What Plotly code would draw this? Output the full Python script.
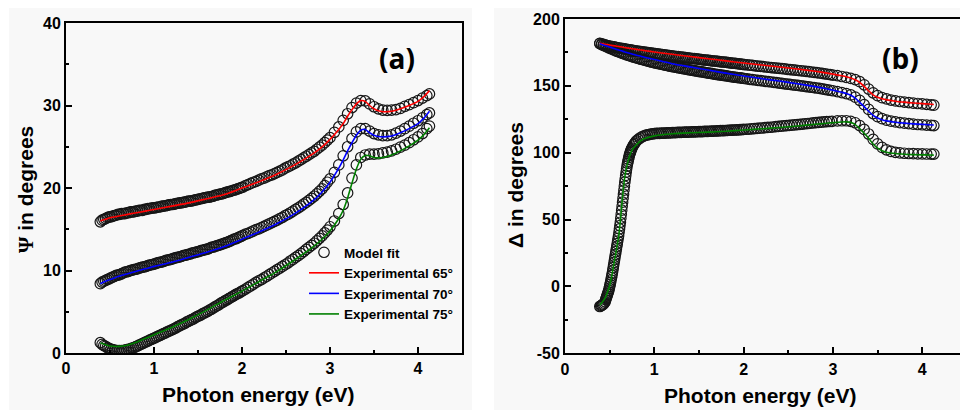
import plotly.graph_objects as go

# ---------------- data ----------------
# photon energies (eV) of the model-fit points
energy_fit = [
    0.39, 0.41, 0.43, 0.45, 0.47, 0.49, 0.51, 0.53, 0.55, 0.57,
    0.59, 0.61, 0.63, 0.65, 0.67, 0.69, 0.71, 0.73, 0.75, 0.77,
    0.79, 0.81, 0.83, 0.85, 0.87, 0.89, 0.91, 0.93, 0.95, 0.97,
    0.99, 1.01,
    1.03, 1.05, 1.07, 1.09, 1.11, 1.13, 1.15, 1.17, 1.19, 1.21,
    1.23, 1.25, 1.27, 1.29, 1.31, 1.33, 1.35, 1.37, 1.39, 1.41,
    1.43, 1.45, 1.47, 1.49, 1.51, 1.53, 1.55, 1.57, 1.59, 1.61,
    1.63, 1.65, 1.67, 1.69, 1.71, 1.73, 1.75, 1.77, 1.79, 1.81,
    1.83, 1.85, 1.87, 1.89, 1.91, 1.93, 1.95, 1.97, 1.99, 2.01,
    2.04, 2.07, 2.10, 2.13, 2.16, 2.19, 2.22, 2.25, 2.28, 2.31,
    2.34, 2.37, 2.40, 2.43, 2.46, 2.49, 2.52, 2.55, 2.58, 2.61,
    2.64, 2.67, 2.70, 2.73, 2.76, 2.79, 2.82, 2.85, 2.88, 2.91,
    2.94, 2.97, 3.00,
    3.05, 3.10, 3.15, 3.20, 3.25, 3.30, 3.35, 3.40, 3.45, 3.50,
    3.55, 3.60, 3.65, 3.70, 3.75, 3.80, 3.85, 3.90, 3.95, 4.00,
    4.05, 4.10, 4.13,
]
# finer energy grid for the 75° Delta fit (steep rise near 0.6 eV)
energy_fit_fine = [
    0.39, 0.40, 0.41, 0.42, 0.43, 0.44, 0.45,
    0.455, 0.460, 0.465, 0.470, 0.475, 0.480, 0.485, 0.490, 0.495, 0.500,
    0.505, 0.510, 0.515, 0.520, 0.525, 0.530, 0.535, 0.540, 0.545, 0.550,
    0.555, 0.560, 0.565, 0.570, 0.575, 0.580, 0.585, 0.590, 0.595, 0.600,
    0.605, 0.610, 0.615, 0.620, 0.625, 0.630, 0.635, 0.640, 0.645, 0.650,
    0.655, 0.660, 0.665, 0.670, 0.675, 0.680, 0.685, 0.690, 0.695, 0.700,
    0.705, 0.710, 0.715, 0.720, 0.725, 0.730, 0.735, 0.740, 0.745, 0.750,
    0.76, 0.77, 0.78, 0.79, 0.80,
    0.82, 0.84, 0.86, 0.88, 0.90, 0.92, 0.94, 0.96, 0.98, 1.00,
    1.02, 1.04, 1.06, 1.08, 1.10, 1.12, 1.14, 1.16, 1.18, 1.20,
    1.22, 1.24, 1.26, 1.28, 1.30, 1.32, 1.34, 1.36, 1.38, 1.40,
    1.42, 1.44, 1.46, 1.48, 1.50, 1.52, 1.54, 1.56, 1.58, 1.60,
    1.62, 1.64, 1.66, 1.68, 1.70, 1.72, 1.74, 1.76, 1.78, 1.80,
    1.82, 1.84, 1.86, 1.88, 1.90, 1.92, 1.94, 1.96, 1.98, 2.00,
    2.03, 2.06, 2.09, 2.12, 2.15, 2.18, 2.21, 2.24, 2.27, 2.30,
    2.33, 2.36, 2.39, 2.42, 2.45, 2.48, 2.51, 2.54, 2.57, 2.60,
    2.63, 2.66, 2.69, 2.72, 2.75, 2.78, 2.81, 2.84, 2.87, 2.90,
    2.93, 2.96, 2.99,
    3.05, 3.10, 3.15, 3.20, 3.25, 3.30, 3.35, 3.40, 3.45, 3.50,
    3.55, 3.60, 3.65, 3.70, 3.75, 3.80, 3.85, 3.90, 3.95, 4.00,
    4.05, 4.10, 4.13,
]

# model fit, Psi (deg)
psi_fit_65 = [
    15.9, 16.1, 16.2, 16.3, 16.4, 16.5, 16.5, 16.6, 16.65, 16.7,
    16.8, 16.8, 16.9, 16.9, 16.9, 17.0, 17.0, 17.1, 17.1, 17.1,
    17.2, 17.2, 17.3, 17.3, 17.3, 17.4, 17.4, 17.5, 17.5, 17.55,
    17.6, 17.6,
    17.65, 17.7, 17.7, 17.8, 17.8, 17.85, 17.9, 17.95, 18.0, 18.0,
    18.05, 18.1, 18.15, 18.2, 18.2, 18.25, 18.3, 18.35, 18.4, 18.4,
    18.45, 18.5, 18.55, 18.6, 18.65, 18.7, 18.75, 18.8, 18.85, 18.9,
    18.9, 18.95, 19.0, 19.1, 19.15, 19.2, 19.25, 19.3, 19.35, 19.45,
    19.5, 19.55, 19.6, 19.7, 19.75, 19.8, 19.9, 19.95, 20.05, 20.1,
    20.3, 20.4, 20.55, 20.7, 20.8, 20.95, 21.1, 21.2, 21.35, 21.5,
    21.6, 21.75, 21.9, 22.05, 22.2, 22.4, 22.55, 22.7, 22.9, 23.05,
    23.25, 23.45, 23.65, 23.85, 24.05, 24.25, 24.45, 24.7, 24.95, 25.2,
    25.5, 25.8, 26.1,
    26.75, 27.4, 28.2, 29.0, 29.75, 30.3, 30.6, 30.55, 30.2, 29.85,
    29.6, 29.45, 29.4, 29.45, 29.5, 29.65, 29.9, 30.1, 30.35, 30.6,
    30.9, 31.2, 31.4,
]
psi_fit_70 = [
    8.4, 8.6, 8.7, 8.8, 8.9, 9.0, 9.1, 9.2, 9.3, 9.4,
    9.45, 9.5, 9.6, 9.7, 9.8, 9.85, 9.9, 10.0, 10.05, 10.1,
    10.15, 10.2, 10.3, 10.35, 10.4, 10.45, 10.5, 10.6, 10.65, 10.7,
    10.75, 10.8,
    10.9, 10.95, 11.0, 11.05, 11.1, 11.2, 11.25, 11.3, 11.35, 11.4,
    11.5, 11.55, 11.6, 11.65, 11.7, 11.8, 11.85, 11.9, 11.95, 12.0,
    12.1, 12.15, 12.2, 12.25, 12.3, 12.4, 12.45, 12.5, 12.55, 12.6,
    12.7, 12.8, 12.85, 12.9, 13.0, 13.05, 13.1, 13.2, 13.25, 13.35,
    13.4, 13.5, 13.6, 13.7, 13.8, 13.85, 13.95, 14.05, 14.15, 14.25,
    14.4, 14.5, 14.65, 14.8, 14.95, 15.05, 15.2, 15.35, 15.5, 15.65,
    15.8, 15.95, 16.1, 16.3, 16.45, 16.65, 16.8, 17.0, 17.2, 17.4,
    17.6, 17.8, 18.05, 18.25, 18.5, 18.75, 19.0, 19.3, 19.6, 19.9,
    20.3, 20.7, 21.1,
    21.9, 22.8, 23.9, 25.0, 26.0, 26.8, 27.2, 27.2, 26.9, 26.6,
    26.45, 26.35, 26.35, 26.45, 26.65, 26.9, 27.2, 27.5, 27.85, 28.15,
    28.5, 28.9, 29.1,
]
psi_fit_75 = [
    1.25, 1.05, 0.9, 0.8, 0.65, 0.55, 0.45, 0.4, 0.35, 0.3,
    0.3, 0.3, 0.3, 0.3, 0.35, 0.4, 0.45, 0.5, 0.6, 0.65,
    0.75, 0.85, 0.95, 1.05, 1.15, 1.25, 1.35, 1.45, 1.55, 1.65,
    1.75, 1.85,
    1.95, 2.05, 2.15, 2.25, 2.35, 2.45, 2.55, 2.65, 2.75, 2.85,
    2.95, 3.05, 3.2, 3.3, 3.4, 3.5, 3.6, 3.75, 3.85, 3.95,
    4.05, 4.15, 4.3, 4.4, 4.5, 4.6, 4.75, 4.85, 4.95, 5.05,
    5.2, 5.3, 5.45, 5.55, 5.7, 5.8, 5.95, 6.1, 6.2, 6.35,
    6.45, 6.6, 6.7, 6.85, 6.95, 7.1, 7.2, 7.3, 7.45, 7.55,
    7.75, 7.95, 8.15, 8.35, 8.55, 8.75, 8.9, 9.1, 9.3, 9.5,
    9.7, 9.9, 10.1, 10.3, 10.5, 10.7, 10.9, 11.15, 11.35, 11.6,
    11.8, 12.05, 12.3, 12.55, 12.8, 13.05, 13.3, 13.6, 13.9, 14.2,
    14.55, 14.9, 15.3,
    16.0, 16.9, 18.0, 19.4, 21.2, 22.8, 23.7, 24.0, 24.1, 24.1,
    24.15, 24.25, 24.35, 24.5, 24.7, 24.95, 25.2, 25.5, 25.85, 26.2,
    26.6, 27.2, 27.5,
]

# model fit, Delta (deg)
delta_fit_65 = [
    181.8, 181.4, 181.0, 180.6, 180.2, 179.9, 179.6, 179.3, 179.1, 178.8,
    178.5, 178.3, 178.0, 177.8, 177.6, 177.3, 177.1, 176.9, 176.7, 176.4,
    176.2, 176.0, 175.8, 175.6, 175.4, 175.2, 175.0, 174.8, 174.6, 174.5,
    174.3, 174.1,
    173.9, 173.75, 173.55, 173.4, 173.2, 173.0, 172.85, 172.65, 172.5, 172.3,
    172.15, 171.95, 171.8, 171.6, 171.45, 171.3, 171.1, 170.95, 170.8, 170.6,
    170.45, 170.3, 170.15, 169.95, 169.8, 169.65, 169.5, 169.35, 169.2, 169.0,
    168.9, 168.75, 168.6, 168.45, 168.3, 168.15, 168.0, 167.85, 167.7, 167.5,
    167.35, 167.2, 167.05, 166.9, 166.75, 166.55, 166.4, 166.25, 166.1, 165.95,
    165.7, 165.45, 165.25, 165.0, 164.8, 164.6, 164.35, 164.1, 163.9, 163.7,
    163.5, 163.3, 163.1, 162.9, 162.65, 162.4, 162.2, 162.0, 161.75, 161.5,
    161.3, 161.1, 160.85, 160.6, 160.35, 160.1, 159.85, 159.6, 159.3, 159.0,
    158.7, 158.4, 158.1,
    157.6, 157.0, 156.3, 155.6, 154.6, 153.1, 150.8, 147.6, 144.8, 142.7,
    141.2, 140.2, 139.4, 138.8, 138.3, 137.9, 137.5, 137.1, 136.8, 136.5,
    136.2, 135.8, 135.6,
]
delta_fit_70 = [
    181.6, 180.9, 180.3, 179.7, 179.1, 178.5, 177.9, 177.4, 176.8, 176.2,
    175.7, 175.2, 174.7, 174.2, 173.7, 173.2, 172.8, 172.4, 171.9, 171.5,
    171.1, 170.7, 170.3, 169.9, 169.6, 169.2, 168.8, 168.5, 168.1, 167.8,
    167.5, 167.1,
    166.85, 166.55, 166.25, 166.0, 165.7, 165.4, 165.1, 164.8, 164.55, 164.3,
    164.0, 163.8, 163.55, 163.3, 163.05, 162.8, 162.55, 162.3, 162.05, 161.8,
    161.55, 161.35, 161.1, 160.9, 160.65, 160.45, 160.2, 160.0, 159.7, 159.5,
    159.3, 159.1, 158.85, 158.65, 158.45, 158.25, 158.05, 157.85, 157.6, 157.4,
    157.2, 157.0, 156.8, 156.6, 156.45, 156.25, 156.05, 155.9, 155.7, 155.5,
    155.2, 154.9, 154.65, 154.4, 154.15, 153.9, 153.65, 153.4, 153.15, 152.9,
    152.65, 152.4, 152.1, 151.8, 151.55, 151.3, 151.05, 150.8, 150.55, 150.3,
    150.05, 149.8, 149.5, 149.2, 148.95, 148.7, 148.4, 148.1, 147.75, 147.4,
    147.05, 146.7, 146.35,
    145.7, 145.0, 144.2, 143.2, 141.6, 139.2, 135.9, 132.4, 129.3, 127.0,
    125.5, 124.4, 123.6, 123.0, 122.5, 122.1, 121.7, 121.4, 121.1, 120.9,
    120.7, 120.5, 120.3,
]
delta_fit_75 = [
    -15.0, -14.6, -14.2, -13.7, -13.2, -12.5, -11.5,
    -10.0, -9.0, -8.0, -7.0, -6.0, -5.0, -4.0, -3.0, -1.5, 0.0,
    1.5, 3.0, 4.8, 6.5, 8.2, 10.0, 12.0, 14.0, 16.0, 18.0,
    20.0, 22.0, 24.0, 26.0, 28.0, 30.0, 32.0, 34.0, 36.0, 38.0,
    40.5, 43.0, 45.5, 48.0, 51.0, 54.0, 57.0, 60.0, 63.0, 66.0,
    69.0, 72.0, 75.0, 78.0, 80.5, 83.0, 85.5, 88.0, 90.0, 92.0,
    93.5, 95.0, 96.5, 98.0, 99.0, 100.0, 101.0, 102.0, 102.8, 103.5,
    105.0, 106.0, 107.0, 108.0, 108.8,
    110.0, 111.0, 111.8, 112.4, 112.9, 113.3, 113.6, 113.9, 114.1, 114.3,
    114.4, 114.5, 114.5, 114.6, 114.65, 114.7, 114.8, 114.85, 114.9, 115.0,
    115.05, 115.1, 115.15, 115.2, 115.25, 115.3, 115.35, 115.4, 115.45, 115.5,
    115.55, 115.6, 115.65, 115.7, 115.75, 115.8, 115.85, 115.9, 115.95, 116.0,
    116.05, 116.1, 116.2, 116.25, 116.3, 116.35, 116.45, 116.5, 116.55, 116.6,
    116.7, 116.8, 116.85, 116.95, 117.0, 117.1, 117.15, 117.25, 117.3, 117.4,
    117.55, 117.7, 117.85, 118.05, 118.2, 118.35, 118.5, 118.7, 118.9, 119.05,
    119.25, 119.45, 119.65, 119.85, 120.05, 120.25, 120.45, 120.65, 120.85, 121.05,
    121.25, 121.45, 121.65, 121.85, 122.05, 122.25, 122.45, 122.65, 122.85, 123.05,
    123.2, 123.35, 123.5,
    123.75, 123.9, 123.9, 123.5, 122.4, 120.3, 117.4, 114.0, 110.0, 106.6,
    104.0, 102.2, 101.0, 100.3, 99.9, 99.6, 99.4, 99.3, 99.2, 99.1,
    99.05, 99.0, 99.0,
]

# experimental Psi (deg)
energy_psi = [
    0.39, 0.45, 0.5, 0.6, 0.7, 0.8, 0.9, 1.0,
    1.2, 1.4, 1.6, 1.8, 2.0, 2.2, 2.4, 2.6, 2.8,
    2.9, 3.0, 3.1, 3.15, 3.2, 3.25, 3.3, 3.35, 3.4, 3.45, 3.5, 3.55, 3.6,
    3.7, 3.8, 3.9, 4.0, 4.07, 4.13,
]
psi_exp_65 = [
    16.0, 16.2, 16.4, 16.6, 16.8, 17.0, 17.2, 17.4,
    17.8, 18.2, 18.7, 19.2, 20.0, 20.8, 21.7, 22.8, 24.1,
    24.9, 25.9, 27.1, 27.8, 28.7, 29.5, 30.2, 30.6, 30.5, 30.0, 29.6, 29.35, 29.25,
    29.3, 29.6, 30.0, 30.5, 31.1, 31.8,
]
psi_exp_70 = [
    8.4, 8.7, 8.9, 9.3, 9.6, 9.9, 10.2, 10.5,
    11.0, 11.6, 12.2, 12.9, 13.8, 14.7, 15.7, 16.9, 18.4,
    19.4, 20.7, 22.4, 23.4, 24.5, 25.5, 26.4, 27.0, 27.1, 26.7, 26.4, 26.25, 26.2,
    26.3, 26.7, 27.2, 27.8, 28.5, 29.3,
]
psi_exp_75 = [
    1.2, 1.0, 0.85, 0.8, 0.95, 1.3, 1.75, 2.2,
    3.1, 4.1, 5.2, 6.4, 7.5, 8.7, 9.9, 11.3, 12.8,
    13.7, 14.8, 16.3, 17.3, 18.8, 20.6, 22.3, 23.5, 23.95, 23.9, 23.7, 23.65, 23.7,
    24.0, 24.5, 25.1, 25.8, 26.5, 27.3,
]

# experimental Delta (deg)
energy_delta = [
    0.39, 0.42, 0.45, 0.48, 0.50, 0.52, 0.54, 0.56, 0.58, 0.60,
    0.62, 0.64, 0.66, 0.68, 0.70, 0.72, 0.75, 0.80, 0.85, 0.90,
    1.00, 1.20, 1.40, 1.60, 1.80, 2.00, 2.20, 2.40, 2.60, 2.80,
    2.90, 3.00, 3.10, 3.15, 3.20, 3.25, 3.30, 3.35, 3.40, 3.45,
    3.50, 3.55, 3.60, 3.70, 3.80, 3.90, 4.00, 4.07, 4.13,
]
delta_exp_65 = [
    181.8, 181.5, 181.1, 180.8, 180.6, 180.4, 180.1, 179.9, 179.6, 179.4,
    179.2, 179.0, 178.7, 178.5, 178.3, 178.1, 177.8, 177.3, 176.8, 176.3,
    175.3, 173.6, 171.9, 170.3, 168.7, 167.1, 165.6, 164.1, 162.6, 160.9,
    159.9, 158.8, 157.5, 156.8, 155.9, 154.5, 152.5, 149.6, 146.2, 143.3,
    141.5, 140.3, 139.5, 138.5, 137.8, 137.2, 136.7, 136.4, 136.1,
]
delta_exp_70 = [
    181.5, 180.8, 180.1, 179.5, 179.0, 178.6, 178.1, 177.7, 177.2, 176.8,
    176.4, 176.0, 175.6, 175.2, 174.8, 174.4, 173.9, 172.9, 172.1, 171.2,
    169.7, 166.6, 164.2, 161.8, 159.5, 157.4, 155.4, 153.6, 151.6, 149.4,
    148.2, 146.8, 145.2, 144.3, 143.0, 140.8, 137.6, 134.5, 131.0, 128.0,
    126.0, 124.7, 123.8, 122.8, 122.1, 121.6, 121.2, 120.9, 120.7,
]
delta_exp_75 = [
    -14.0, -11.5, -8.5, -3.5, 0.5, 6.5, 14.0, 21.5, 29.0, 37.0,
    49.0, 64.0, 77.0, 86.0, 92.0, 97.0, 102.0, 106.0, 109.0, 110.8,
    112.6, 114.2, 114.9, 115.4, 116.0, 117.0, 117.9, 118.9, 120.0, 121.3,
    121.9, 122.5, 123.0, 123.1, 122.7, 121.0, 118.0, 114.5, 110.8, 106.5,
    103.4, 101.5, 100.4, 99.4, 98.9, 98.6, 98.4, 98.3, 98.2,
]

angle_names = ["Experimental 65°", "Experimental 70°", "Experimental 75°"]
line_colors = ["#ff0000", "#0000ff", "#008000"]
delta_ticks = [-50, 0, 50, 100, 150, 200]
delta_tick_text = ["-50", "0", "50", "100", "150", "200"]

for arr in (psi_fit_65, psi_fit_70, psi_fit_75, delta_fit_65, delta_fit_70):
    assert len(arr) == len(energy_fit), len(arr)
assert len(delta_fit_75) == len(energy_fit_fine), len(delta_fit_75)
for arr in (psi_exp_65, psi_exp_70, psi_exp_75):
    assert len(arr) == len(energy_psi), len(arr)
for arr in (delta_exp_65, delta_exp_70, delta_exp_75):
    assert len(arr) == len(energy_delta), len(arr)

# ---------------- figure ----------------
W, H = 960, 410
BOLD = "Liberation Sans, Arial, sans-serif"
PANEL_BG = "#f8f8f8"

fig = go.Figure()

fit_marker = dict(symbol="circle-open", size=10.5, color="#161616",
                  line=dict(width=1.2, color="#161616"))

# model-fit circles (drawn first so the measured lines sit on top)
for i, ys in enumerate((psi_fit_65, psi_fit_70, psi_fit_75)):
    fig.add_trace(go.Scatter(x=energy_fit, y=ys, mode="markers", marker=fit_marker,
                             name="Model fit", showlegend=(i == 0), legendrank=1,
                             xaxis="x", yaxis="y"))
for xs, ys in ((energy_fit, delta_fit_65), (energy_fit, delta_fit_70),
               (energy_fit_fine, delta_fit_75)):
    fig.add_trace(go.Scatter(x=xs, y=ys, mode="markers", marker=fit_marker,
                             showlegend=False, xaxis="x2", yaxis="y2"))

# measured curves
for k, ys in enumerate((psi_exp_65, psi_exp_70, psi_exp_75)):
    fig.add_trace(go.Scatter(x=energy_psi, y=ys, mode="lines",
                             line=dict(color=line_colors[k], width=1.6, shape="spline", smoothing=0.6),
                             name=angle_names[k], legendrank=2 + k,
                             xaxis="x", yaxis="y"))
for k, ys in enumerate((delta_exp_65, delta_exp_70, delta_exp_75)):
    fig.add_trace(go.Scatter(x=energy_delta, y=ys, mode="lines",
                             line=dict(color=line_colors[k], width=1.6, shape="spline", smoothing=0.6),
                             showlegend=False, xaxis="x2", yaxis="y2"))

tick_font = dict(family=BOLD, size=16, color="black", weight="bold")


def axis_style(**kw):
    base = dict(showline=True, linewidth=2, linecolor="black", showgrid=False,
                zeroline=False, ticks="inside", ticklen=6, tickwidth=2,
                tickcolor="black", tickfont=tick_font, automargin=False)
    base.update(kw)
    return base


fig.update_layout(
    width=W, height=H,
    margin=dict(l=0, r=0, t=0, b=0),
    paper_bgcolor="white",
    plot_bgcolor="rgba(0,0,0,0)",
    xaxis=axis_style(domain=[66 / W, 462 / W], range=[0, 4.5], tick0=0, dtick=1,
                     mirror=True, anchor="y",
                     minor=dict(dtick=0.5, ticks="inside", ticklen=3, tickwidth=2, tickcolor="black")),
    yaxis=axis_style(domain=[(H - 353) / H, (H - 23) / H], range=[0, 40], tick0=0, dtick=10,
                     mirror=True, anchor="x",
                     minor=dict(dtick=5, ticks="inside", ticklen=3, tickwidth=2, tickcolor="black")),
    xaxis2=axis_style(domain=[565 / W, 1.0], range=[0, 4.423], tick0=0, dtick=1,
                      mirror=True, anchor="y2",
                      minor=dict(dtick=0.5, ticks="inside", ticklen=3, tickwidth=2, tickcolor="black")),
    yaxis2=axis_style(domain=[(H - 353.3) / H, (H - 19) / H], range=[-50, 200],
                      tickmode="array", tickvals=delta_ticks, ticktext=delta_tick_text,
                      mirror=False, anchor="x2",
                      minor=dict(dtick=25, tick0=0, ticks="inside", ticklen=3, tickwidth=2, tickcolor="black")),
    legend=dict(x=304 / W, y=(H - 237) / H, xanchor="left", yanchor="top",
                bgcolor="rgba(0,0,0,0)", borderwidth=0,
                font=dict(family=BOLD, size=13.5, color="black", weight="bold"),
                tracegroupgap=0),
    showlegend=True,
    shapes=[
        dict(type="rect", xref="paper", yref="paper", x0=9 / W, x1=472 / W, y0=0, y1=(H - 8) / H,
             fillcolor=PANEL_BG, line=dict(width=0), layer="below"),
        dict(type="rect", xref="paper", yref="paper", x0=494 / W, x1=1, y0=0, y1=(H - 8) / H,
             fillcolor=PANEL_BG, line=dict(width=0), layer="below"),
    ],
)

title_font = dict(family=BOLD, size=21, color="black", weight="bold")
panel_font = dict(family="Open Sans, sans-serif", size=28, color="black", weight="bold")


def note(text, x, y, font, angle=0):
    fig.add_annotation(text=text, x=x / W, y=(H - y) / H, xref="paper", yref="paper",
                       showarrow=False, xanchor="center", yanchor="middle",
                       textangle=angle, font=font)


note("Photon energy (eV)", 258, 394, title_font)
note("Photon energy (eV)", 760, 395, title_font)
note("<span style='font-family:Liberation Serif, serif'>Ψ</span> in degrees", 26, 190, title_font, -90)
note("Δ in degrees", 516, 185, title_font, -90)
note("(a)", 397, 58, panel_font)
note("(b)", 900, 58, panel_font)

fig.write_html("out.html")
